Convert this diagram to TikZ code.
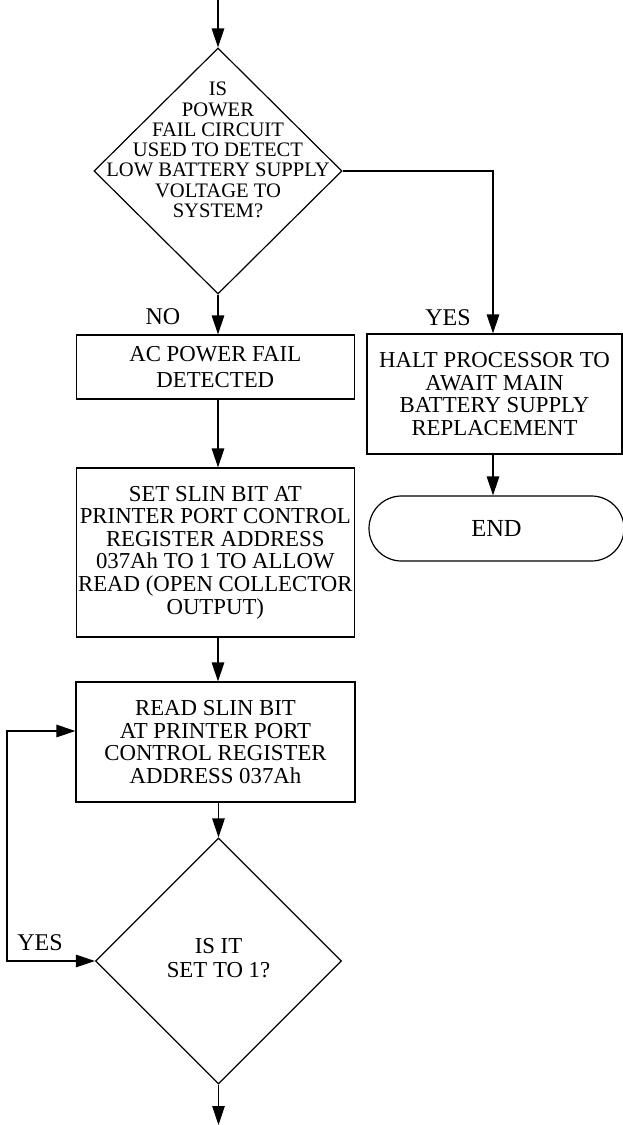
\documentclass[tikz,border=0pt]{standalone}
\usepackage{fontspec}
\setmainfont{Liberation Serif}
\usetikzlibrary{arrows.meta,shapes.geometric,shapes.misc}
\begin{document}
\begin{tikzpicture}[x=1pt,y=-1pt,line width=1.2pt,
  tip/.tip={Triangle[length=19pt,width=12.5pt]},
  arr/.style={-tip},
  box/.style={draw,rectangle,align=center,inner sep=0pt,font=\fontsize{22.8}{22.6}\selectfont},
  dec/.style={draw,diamond,inner sep=0pt},
  dtext/.style={align=center,inner sep=0pt},
  term/.style={draw,rounded rectangle,inner sep=0pt,font=\fontsize{24.5}{24}\selectfont},
  lbl/.style={inner sep=0pt,font=\fontsize{24}{24}\selectfont}]
\useasboundingbox (0,0) rectangle (622,1125);

\node[dec,minimum width=248pt,minimum height=246pt] (d1) at (218,171) {};
\node[dtext,font=\fontsize{20.6}{20.3}\selectfont] (t1) at (218,150)
  {IS\\POWER\\FAIL CIRCUIT\\USED TO DETECT\\LOW BATTERY SUPPLY\\VOLTAGE TO\\SYSTEM?};

\node[box,minimum width=278pt,minimum height=64pt,font=\fontsize{22.8}{26}\selectfont] (ac) at (215.3,367) {AC POWER FAIL\\DETECTED};
\node[box,minimum width=278pt,minimum height=169pt] (set) at (215.3,552.5)
  {SET SLIN BIT AT\\PRINTER PORT CONTROL\\REGISTER ADDRESS\\037Ah TO 1 TO ALLOW\\READ (OPEN COLLECTOR\\OUTPUT)};
\node[box,minimum width=279pt,minimum height=120pt] (rd) at (215.5,742)
  {READ SLIN BIT\\AT PRINTER PORT\\CONTROL REGISTER\\ADDRESS 037Ah};
\node[dec,minimum width=246pt,minimum height=246pt] (d2) at (218.5,961) {};
\node[dtext,font=\fontsize{22.8}{24.5}\selectfont] (t2) at (218.5,958) {IS IT\\SET TO 1?};

\node[box,minimum width=255pt,minimum height=120pt] (halt) at (494.5,394)
  {HALT PROCESSOR TO\\AWAIT MAIN\\BATTERY SUPPLY\\REPLACEMENT};
\node[term,minimum width=255pt,minimum height=65pt] (end) at (496.5,528.5) {END};

\node[lbl] (no) at (163,317) {NO};
\node[lbl] (yes1) at (448,318) {YES};
\node[lbl] (yes2) at (40,943) {YES};

\coordinate (top) at (218,0);
\coordinate (bot) at (218.5,1125);
\coordinate (lx) at (7,961);

\draw[arr] (top) -- (d1.north);
\draw[arr] (d1.south) -- (d1.south |- ac.north);
\draw[arr] (d1.east) -| ([xshift=-1.5pt]halt.north);
\draw[arr] ([xshift=-1.5pt]halt.south) -- ([xshift=-1.5pt]halt.south |- end.north);
\draw[arr] (ac.south -| d1.south) -- (set.north -| d1.south);
\draw[arr] (set.south -| d1.south) -- (rd.north -| d1.south);
\draw[arr] (rd.south -| d2.north) -- (d2.north);
\draw[arr] (d2.south) -- (bot);
\draw[tip-tip] (d2.west) -- (lx) |- ([yshift=11pt]rd.west);
\end{tikzpicture}
\end{document}
